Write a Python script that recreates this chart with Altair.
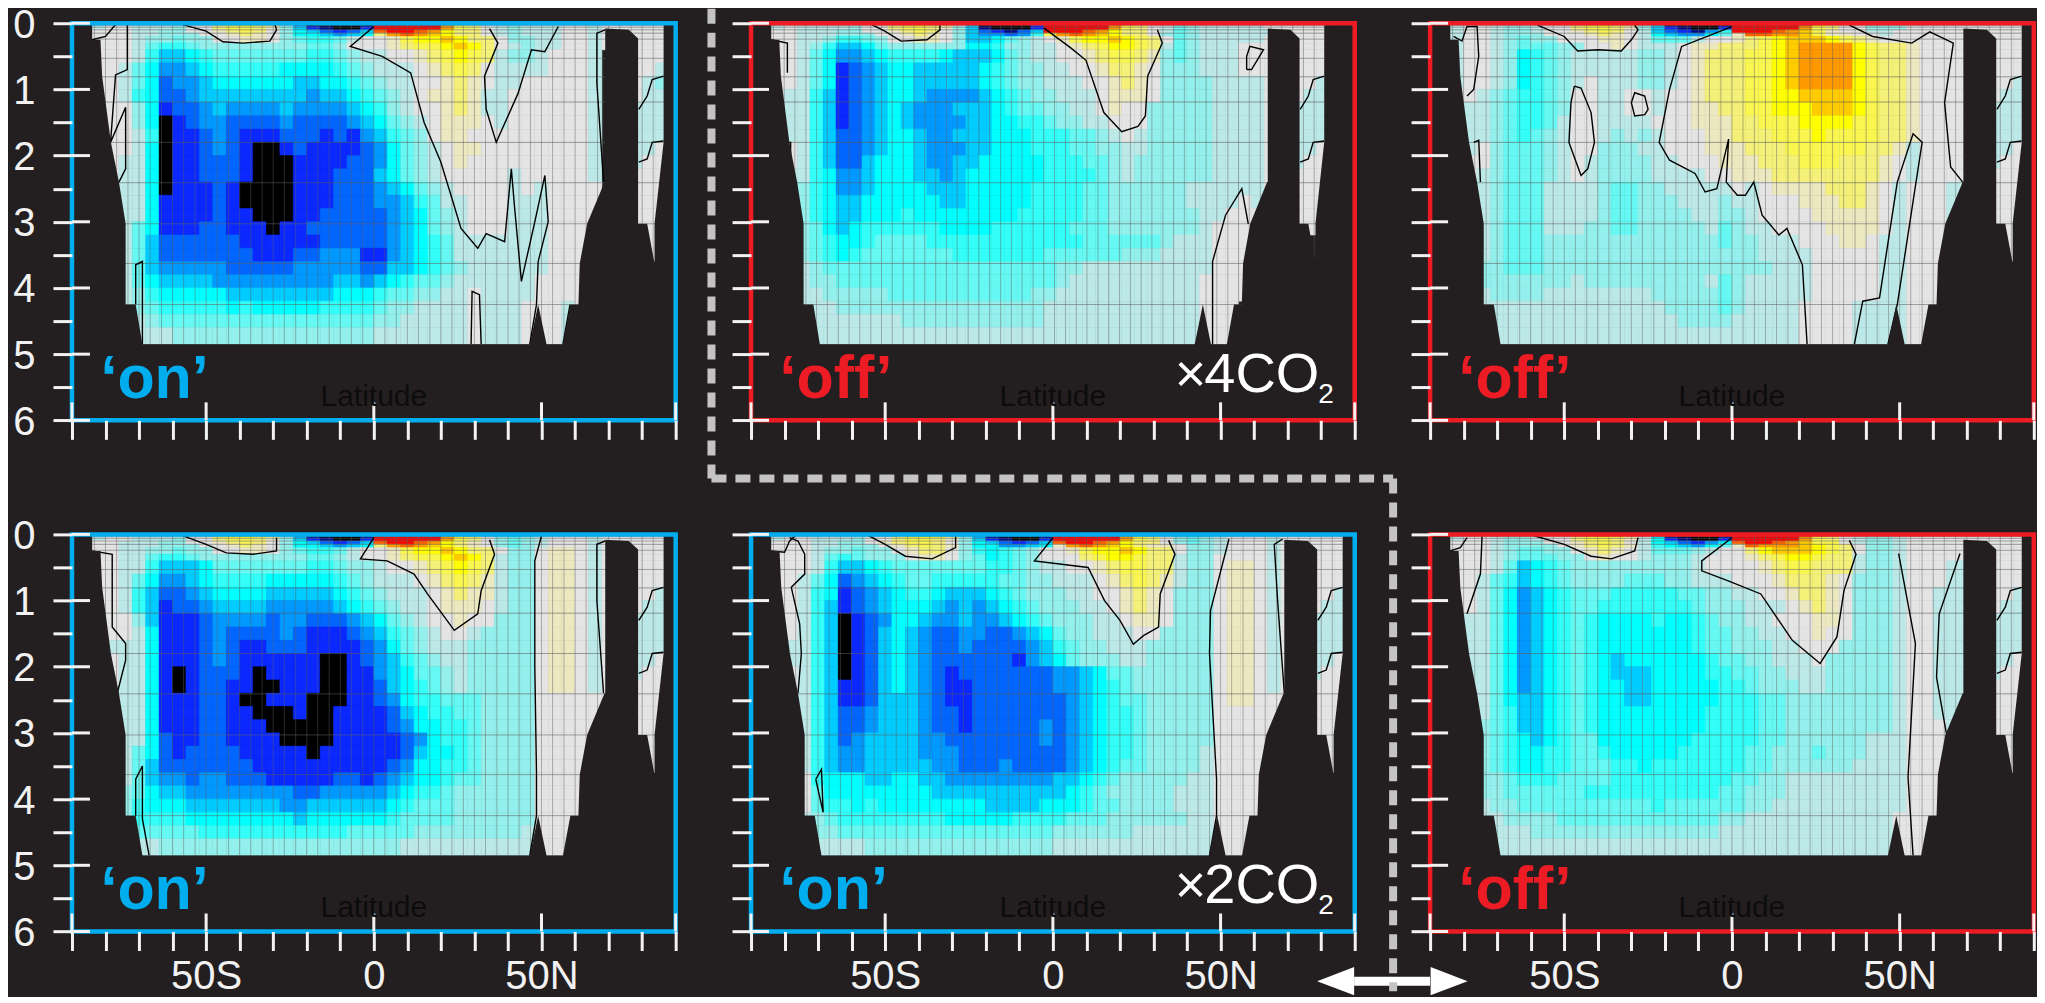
import altair as alt
import pandas as pd

BG = "#231f20"
BLUE = "#00aeef"
RED = "#ed1c24"
WHITE = "#f2f2f2"
W, H = 604, 397.3

LEVEL_CODES = list("KNABCDEFGHIZabcdefgr")
LEVEL_COLORS = ["#000000", "#000a80", "#0a28ff", "#0066ff", "#0099ff", "#00ccff", "#00ffff",
                "#33fff8", "#66f8f2", "#93f0ec", "#bce9e8", "#e4e4e4", "#ece8c0", "#f4f078",
                "#faf650", "#ffff00", "#ffcc00", "#ff9900", "#ff6000", "#ff0000"]

DEPTH_EDGES = [0, .05, .1, .15, .2, .3, .4, .6, .8, 1, 1.2, 1.4, 1.6, 1.8, 2, 2.2, 2.4, 2.6, 2.8,
               3, 3.2, 3.4, 3.6, 3.8, 4, 4.2, 4.4, 4.6, 4.85]
FIRST_LAT = -84
LAT_STEP = 4

P1_ROWS = [
"IZZII IIZab cdcbH CKKKK Krrrr rfcbZ IHIII ZZIZZ ZZZ",
"IZZII IHZZb ccbaH DANKK Arrrr rfcbZ IHIII ZZIZZ ZZZ",
"ZZZII HHZZa bcbZH EDBAB Dgrrg fdbbZ IHIII ZZIZZ ZZZ",
"ZZZII HHHZZ abaZH EEDCD Ebfgf edbbZ IHIII ZZIZZ ZZZ",
"ZZZIH HGHHZ ZaaZH GFFGI ZZacd dedbb ZHHII ZZIZZ ZZZ",
"ZZZIG FFGHH HHHHH HGGHZ ZZabc cdedb ZIHII ZZIZZ ZZZ",
"ZZZIF DDEFG GGGGG GFFGH IIZZa bcdcb IHHIZ ZZI.. ZZZ",
"ZZIGE CCDEF FFFFE EEEFG HIIIZ abcbZ IIIIZ ZZI.. ZZI",
"ZZIGE BCCDE EEEEE DDEEF GHIIZ ZabaZ IIZZZ ZZI.. ZIH",
"ZZIFE BBCDD DDDDD DCDDE FGHIZ aabaI IZZZZ ZZI.. ZII",
"ZZZHE ABBCD CCCCD CCCCD EFHIZ ZabaI IZZZZ ZZI.. III",
"ZZZHE KABCC BBBBC BBBBC DEGHI ZaaaZ IZZZZ ZZI.. III",
"ZZZIF KAABC BAAAB BBABA CDFGH ZaaZZ ZZZZZ ZZI.. III",
"ZZZIE KAABC BAKKA BAAAA BCEGH IZaaZ ZZZZZ ZZI.. IIZ",
"ZZIIE KAABB BAKKK AAAAB BCEGH IZaZZ ZZZZZ ZZI.. IZZ",
"ZZIIE KAABB BAKKK AAABB BDEGH IZZZZ ZIZZZ ZZI.. ZZZ",
"ZZIIE KAAAB AKKKK AAABB BCDEG HIZZZ ZIZIZ ZZZ.. ZZZ",
"ZZIIE AAAAB AKKKK AAABB BCCDF GIIZZ ZIIIZ ZZZ.. ZZZ",
"ZZIIE AAAAB AAKKK AABBB BBCDE GHIZZ ZIIIZ ZZZ.. ZZZ",
"ZIIGE AAABB AAAKA ABBBB BBCDE GHIZZ ZIIIZ ZZZ.. ZZZ",
"ZIIGD BBBBB BAAAA AABBB BBCDE FGIII IIIIZ ZZ... ZZZ",
"ZIIGD BBBBB BBAAA BBCCC AACDE FGIII IIIIZ ZZ... ZZZ",
"ZIIGD CCCCC BBBBB CCCCC BBDDE FGHII IIIIZ ZZ... ...",
"ZIIGE DDDDC CCCCC CCCDD CDEFG GHIII IIIZZ ZZ... ...",
"ZZIHF EEEEE DDDDD DDDEE EFGGH HIIZI IIIZZ ZZ... ...",
"ZZIHG FFFFF EFEEE EEFFF FGHHI IIIZI IIZZZ IZ... ...",
"ZZIIH GGGGG GGGGG GGGGG GHHII IIIZI IIZZZ I.... ...",
"ZZIII IHHHH HHHHH HHHHH HIIII IIIZI IIZZZ I.... ...",
]

P2_ROWS = [
"IZZII IIZab cdcbI DKKKK Arrrr rfcbZ IGHII IIIZZ ZZZ",
"IZIII IHZZb ccbaH DNKKK Arrrr rfcbZ IGHII IIIZZ ZZZ",
"ZZIII HHZZa bcbZH DBANB Drrrg fdbbZ IGHII IIIIZ ZZZ",
"ZZIII HHHZZ abaZH DCCBC Fcfgf edbbZ HGHII IIIIZ ZZZ",
"ZZIIH FFGHZ ZaaZH DDEGH IZacd dedcb ZGHII IIIZZ ZZZ",
"ZZIHF DDEGH HHHHH EEFHH IIZab cddcb IGHII IZZZZ ZZZ",
"ZZIGE CCDEF FFFED DDEGH IIZZa bccba HGHII IZZZZ ZZZ",
"ZZIGE ABCDE EDDDD DEFGH HIIZZ abbaZ HHHII IZZZZ ZZZ",
"ZZIGE ABCDE EDDDD DEFGH HIIIZ ZabaZ HHHHI IIIZZ ZZI",
"ZIIFD ABCDE EDCCC CDEFG HHIII ZaaaZ HHHHI IIIZZ ZII",
"IIIFD ABCDE DCCCD DDEFG GHHII ZaZZH HHHHI IIIZZ III",
"IIIFD ABCDE DCCCC DDEEF FGHHI IZZZH HHHHI IIIZZ III",
"IIIFD BBCDE EDCCD DDEEE FFFGG HIZIH HHHHI IIIZZ III",
"IZIFD BBCDE EDCCC DDEEE FFFGG HHIIH HHHHI IIIZZ IIZ",
"IZIFD BBDEE EDCCD DEEEE EFFFG GHIHH HHHHI IIIZZ IZZ",
"IIIFE CCDEE EDDCD EEEEE EFFFF GHIHH HHHHI IIIZZ ZZZ",
"IIHFE CCDEE EEDDD EEEEE FFFFG GHHHH HHIII IIIZZ ZZZ",
"IIHFE DDEEE EEEDD EEEEE FFFFG GHHHH HHIII IZIZZ ZZZ",
"IIHFE DDEEE FEEEE EEEEF FFFFG GHHHH HHHII ZZZZZ ZZZ",
"IIHGE DEFFF FFFEE EEFFF FFFGG GHHHH HHHIZ ZZZZZ ZZZ",
"IIHGF EEFGG GGFFF FFFFF FFFFG GGGGG HIIIZ ZZZ.. ...",
"IIHGF EFGGG GGGGF FFFFF FGGGG GGHHH IIIIZ ZZZ.. ...",
"IIIHG GGGGG GGGGG GGGGG GGHHI IIIII IIIIZ ZZZ.. ...",
"IIIHH GGGGG GGGGG GGGGG GGHII IIIII IIIZZ ZZZ.. ...",
"IIIIH HHHHG GGGGG GGGGG HHIII IIIII IIIZZ ZZ... ...",
"IIIII HHHHH HHHHH HHHHH HIIII IIIII IIIZZ Z.... ...",
"IIIII IIIII HHHHH HHHHH HIIII IIIII IIIZZ Z.... ...",
"IIIII IIIII IIIII IIIII IIIII IIIII IIIZZ Z.... ...",
]

P3_ROWS = [
"IZZIH HIZab cdcbH DKKKK Krrrr rgdba ZHHHI IIIZZ ZZZ",
"IZZIH HIZZb ccbaH DANKK Arrrr rfcbZ ZHHHZ ZZZZZ ZZZ",
"IZZIH HIZZa bcbZI DBANC Frrrg fecaZ ZIIZZ ZZZZZ ZZZ",
"IZZIH HHZZZ abaZI EDCCE Gaggf fecaa ZZIZZ ZZZZZ ZZZ",
"IZZIH GHHZZ ZaaZI GGGIZ Zabcd eeedc baZZZ ZZZZZ ZZZ",
"IZZIH GGGHH ZZaZI IIZaa bbbcd effff dcbba ZZZZZ ZZZ",
"IZZIH EFGHI IIIIH HIZab bbccd effff dcbba ZZZZZ ZZZ",
"IZZIH EFGHI IIIIH HIZab bbccd effff dcbba ZZZZZ ZZZ",
"IZZIH EFGHI ZIIIH HIZab bbccd effff dcbba ZZZZZ ZZI",
"ZZIHG FFGHZ ZIIZZ IZZab bbccd deeee dcbba ZZZZZ ZII",
"ZIIHG FFGHZ ZIIZZ IZZaa bbccd ddeee dcbba ZZZZZ III",
"IIIHG FFGIZ ZIIII ZZZaa abbcc cdddd ccbba ZZZZZ III",
"IIIHG FGHIZ ZIHIH IZZZa abbbc ccdcc ccbba ZZZZZ III",
"IIZHG GGHIZ ZHHHI IZZZa aabbb ccccc cbbaI ZZZZZ IIZ",
"IZZHG GGHIZ IHHHH IIZZZ aaabb bcccb bbaZI ZZZZZ IZZ",
"IZIHG GGHIZ IHHHH IIIIZ Zaaab bbbbb bbaZI ZZZZZ ZZZ",
"IIIHG GGIII IHGGH HIIII IZIZa aaabb baZIZ ZZIII ZZZ",
"IIIHG GGIII IHGGH HHIII HIIZZ Zaaab baZIZ ZZIII ZZZ",
"IIIHG GGIII IHGGH HHHII HHIZZ ZZaaa aaZIZ ZZIII ZZZ",
"IIIHG GGIII HHGGH HHHHI GHIIZ ZZZaa aaZIZ ZZ... ZZZ",
"IIIHG GGHHH HHHHH HHHHH GHHII IZZZa aZIIZ ZZ... ZZZ",
"IIIHG GGHHH HHHHH HHHHH HHHII IIZZZ ZZIIZ ZZ... ZZZ",
"IIHHG GGHHH HHHHH HHHHH HHHHI IIZZZ ZZIIZ ZZ... ...",
"IIHHH HHHHI HHHHH HHHHI GHIII IIZZZ ZZIIZ ZZ... ...",
"IIIHH HHIII IIIII HHHHH GHIII IIZZZ ZZIIZ ZZ... ...",
"IIIII IIIII IIIII IHHHH GHIII IZZZZ IIIIZ ZZ... ...",
"IIIII IIIII IIIII IIHHH HIIII IZZZZ IIIIZ Z.... ...",
"IIIII IIIII IIIII IIIII IIIII IZZZZ IIIIZ Z.... ...",
]

P4_ROWS = [
"IZZII IIZab cdcbH CKKKK Krrrr rfcbZ HGHIZ ZZIZZ ZZZ",
"IZZII IHZZb ccbaH DANKK Arrrr rfcbZ HGHIZ ZZIZZ ZZZ",
"ZZIII HHZZa bcbZH EDBAB Dgrrg fdbaZ HGHIZ ZZIZZ ZZZ",
"ZZIII HHHZZ abaZH EEDCD Ebfgf edbaZ HGHIZ ZZIZZ ZZZ",
"ZZIIH HGHHZ ZaaZH GFFGI ZZacd dedbb ZHHZa aZIZZ ZZZ",
"ZZIIG FFGHH HHHHH HGGHI ZZabc cdedb IHHZa aZIZZ ZZZ",
"ZZIIF DDDEG GGGGG GFFGH HIZZa bcdcb IHHZa aZIZZ ZZZ",
"ZZIGE CCDEF FFFEE EEEFG HIIIZ abcba IHHZa aZIZZ ZZZ",
"ZZIFD BBCDE EEEDD DDDEF GHIII Zabaa IHHZa aZIZZ ZZI",
"ZZIFD ABBCD DDDCC CCCDE FGHII ZaaaZ IHHZa aZIZZ ZII",
"ZZZHD AAABC CCCBC CBBBC DEGHI ZZaZZ HHHZa aZIZZ III",
"ZZZIE AAABC BBBBC BAAAB CDFGH IZZIH HHHZa aZIZZ III",
"ZIIIE AAABC BAABB BAAAA BCEGH IIIHH HHHZa aZIZZ III",
"ZZIIE AAABC BAAAA AAKKA BCDFG HIIHH HHHZa aZIZZ IIZ",
"ZZIIE AKABB BAKAA AAKKA ACDEG GHIHH HHHZa aZIZZ IZZ",
"ZZIIE AKABB AAKKA AAKKA ABDEF GHIHH HHHZa aZIZZ ZZZ",
"ZZIIE AAABB AKKAA AKKKA ABCEF FGGGH HHHZZ ZZZZZ ZZZ",
"IIIIE AAABB AAKKK AKKAA AABDE FFGGH HHHZZ ZZZZZ ZZZ",
"IIIIE AAABB AAAKK KKKAA AABCE EFFGH HHHZZ ZZZZZ ZZZ",
"ZIIIE BAABB AAAAK KKKAA AAABC EFFGH HHHZZ ZZZZZ ZZZ",
"ZIIGE BABBB BAAAA AKAAA AAABD EEFGH HHHZZ ZZ... ZZZ",
"ZIIGD BBBBB BBAAA AAAAA AABCE EFFGH HHHZZ ZZ... ZZZ",
"ZIIGD CCBCC BBBAA AAABB ABCDE EFGGH HHHZZ ZZ... ...",
"ZIHGE DDCCC CCCCC BBCCC CCDEF FGHHH HHHZZ ZZ... ...",
"ZZHFE EEDDD DDDDC CDDDD DDEFG GGHHH HHHZZ ZZ... ...",
"ZZHFF FFEEE EEEEE DEEEE EEFGG GGHHH HHHZZ ZZ... ...",
"ZZIGG GGGFF FFFFF FFFFG GGGGH HHHHH HHIZZ Z.... ...",
"ZZIII HHHHH HHHHH HHHHH HHHII IIIII IIIZZ Z.... ...",
]

P5_ROWS = [
"IZZIZ IIZab cddbH CKKKK Krrrr rfcbZ HGHIZ ZZIZZ ZZZ",
"IZZII IHZZb ccbaH DANKK Arrrr rfcbZ HGHIZ ZZIZZ ZZZ",
"ZZZII HHZab ccbZH EDBAB Dgrrg fdbbZ HGHIZ ZZIZZ ZZZ",
"ZZZII HHHZa bcbaH EECCD Eafgf edbaa ZHHIZ ZZIZZ ZZZ",
"ZZZIH HGHHZ abbZH FEFGH ZZacd dedbb ZHHIZ ZZIZZ ZZZ",
"ZZZIG FGHHH ZaaZH GEFGH ZZZbc ddcbb IHHZZ ZZIZZ ZZZ",
"ZZZIF DDEFG GGGGG GFFGH IIZZa bccbb IHHZa aZIZZ ZZZ",
"ZZIGE BCDEF GGFFF FFGGH HIIIZ abcba IHHZa aZIZZ ZZZ",
"ZZIFE ABCDE FFEDD DEFGH HHIIZ ZabaZ HHHZa aZIZZ ZZI",
"ZZIFD ABCDE EEDCD CDEFG HHHII ZabaZ HHHZa aZIZZ ZII",
"ZZIFD KABCE EDCCD CCDEF GHHHI IZaaZ HHHZa aZIZZ III",
"ZZIFD KABDE DCBBC CBBCD EGHHI IIZZH HHHZa aZIZZ III",
"ZIIFD KABDE DCBBC BBBBC DFGHH IIIHH HHHZa aZIZZ III",
"ZIIFD KABDE DCBBB BBBAC DEGHH HIIHH HHHZa aZIZZ IIZ",
"IZIFD KABDE DCBAB BBBBB BCCDE GGHHH HHHZa aZIZZ IZZ",
"IZIFD AABDE DCBAA BBBBB BCCDE FGHHH HHHZa aZIZZ ZZZ",
"IIIFD AABDD DCBAA BBBBB BBCDE FGGHH HHHZa aZZZZ ZZZ",
"IIIFD BBCDD DCBBA BBBBB BBCDE FFGHH HHHZZ ZZZZZ ZZZ",
"IIIFD BBCDD DCBBA BBBBB CBCDE FFGHH HHHZZ ZZZZZ ZZZ",
"IIIFD BCDDD DCCBB BBBBB CBCDE FFGHH HHHZZ ZZZZZ ZZZ",
"IIIFD CCDDD DCCCB BBBBB BBCDE FFGHH HHIZZ ZZ... ZZZ",
"IIIFD CCDDD DDCCB BBCBB BBCDE FGGHH HHIZZ ZZ... ZZZ",
"IIZFE EEDDE EDDCC CCCCC CDDEF GHHHH HIIZZ ZZ... ...",
"IIZGE EEEEE EEDDD DDDDD DDEFG HHHHH IIIZZ ZZ... ...",
"IIZGF FEFEE EEEEE EDDDD EEEFG GHHHH IIIZZ ZZ... ...",
"IIIHG FFFFF FFFEE EEEFF FFGGG HHHHH HIIZZ ZZ... ...",
"IIIHH GGGGG GGGGG GGGGG GHHHH HHIII IIIZZ Z.... ...",
"IIIII IIHHH HHHHH HHHHH HIIII IIIII IIIZZ Z.... ...",
]

P6_ROWS = [
"IZZIH HIZab cddbI DKKKK Krrrr rfcbZ IHHIZ ZZZZZ ZZZ",
"IZZIH HIZZb ccbaI EANKK Arrrr rfcbZ IHHIZ ZZZZZ ZZZ",
"ZZZIH HHZZa bcbZI EDBAC Egrrg feccZ IHHIZ ZZZZZ ZZZ",
"ZZZIH HHHZa bcbaI FEDCE Gagff fedcb ZHHIZ ZZZZZ ZZZ",
"ZZZIH GGHHZ abaZI GGGHI ZZbde eedcb ZHHIZ ZZZZZ ZZZ",
"ZZZIH GGGHH ZaZZI HHHIZ ZZabc ddcbb IHHIZ ZZZZZ ZZZ",
"ZZZIG DEFGH HHHHH HHHIZ ZZZab ccbbb IHHIZ ZZIII ZZZ",
"ZZIGF DEFGH HHHGG GHHII IZZZa bbbaZ HHHIZ ZZIII ZZZ",
"ZZIGE CDEFG GGFFF FFGGH HIIZZ abbaZ HHHIZ ZIIII ZZI",
"ZZIGE CDEFG GFFFF FFFGH HHIII ZabaZ HHHIZ ZIIII ZII",
"ZIIGE CDEFG FEEEE FEEFG HHIIZ ZZaaZ HHHIZ ZIIII III",
"ZIIGE CDEFG FEEEE EEEFG GHHII ZZaZZ HHHIZ ZIIII III",
"IIIGE CDEFG FEEEE EEEFG GHHHI IZZZH HHHIZ ZIIII III",
"IIIGE CDEFG FEDEE EEEEF GGHHI IIZHH HHHIZ ZIIII IIZ",
"IIIGE CDEFG FEDDD EEEEF FGGHH IIIHH HHHIZ ZIIII IZZ",
"IIIGE CDEFG FEEDD EEEEE FFGHH HIIHH HHHIZ ZIIII ZZZ",
"IIIGE DDEFG FEEDD EEEEE FFFGG HHHHH HHHIZ ZIIII ZZZ",
"IIIGF DDEFG FEEEE EEEEF FFFGG HHHHH HHHIZ ZIIII ZZZ",
"IIHGF DDEFG FEEEE EEEEF FFFGG HHHHH HHHIZ ZZIII ZZZ",
"IIHGF EDEFG GEEEE EEEFF FFFGG HHHHH HIIIZ ZZZ.. ZZZ",
"IIHGF EEFFG GFEEE EEFFF FFGGH HHGHH HIIIZ ZZZ.. ZZZ",
"IIHGF EEFFG GGFFE FFFFF FFGGH HHHHH IIIIZ ZZZ.. ZZZ",
"IIHHG FFFGG GGFFF FFFFF FGGHH IIIII IIIIZ ZZ... ...",
"IIHHG GGGGG FFFFF FFFFF GGHHH IIIII IIIIZ ZZ... ...",
"IIIHH GGGGG GGGGG FGGGG GGHHI IIIII IIIIZ ZZ... ...",
"IIIIH HHHGG GGGGG GGGGG HHIII IIIII IIIZZ ZZ... ...",
"IIIII IHHHH HHHHH HHHHH IIIII IIIII IIIZZ Z.... ...",
"IIIII IIIII IIIII IIIII IIIII IIIII IIIZZ Z.... ...",
]

# black zero contours, (latitude, depth km)
RIGHT_A = [(79, 1.3), (81.5, 1.1), (83, .85), (86.4, .8)]
RIGHT_B = [(79, 2.1), (81.5, 2.05), (83, 1.8), (86.4, 1.78)]
P1_LINES = [
 [(0,.05),(-7,.35),(2.5,.5),(11,.75),(15,1.5),(20,2.1),(23,2.6),(26,3.1),(31,3.4),(33.5,3.18),(39,3.3),(41,2.2),(42,2.8),(44,3.9),(48,3),(51,2.3),(52,3),(49,3.6),(48.5,4.25),(46.5,4.85)],
 [(34.5,.08),(37,.3),(33,.8),(33.5,1.3),(36.5,1.8),(43,1.06),(47,.4),(51,.43),(55,.05)],
 [(-57,.02),(-50,.12),(-45,.28),(-39,.3),(-31,.27),(-29,.1),(-29.5,.02)],
 [(-84,.25),(-80,.2),(-78,.08),(-77,.02)],
 [(-73.5,.02),(-73.5,.7),(-77,.78),(-78.5,1.8),(-74,1.27),(-74,2.2),(-76,2.4)],
 [(69,.1),(66.5,.15),(66.5,.9),(68.5,2.4)], RIGHT_A, RIGHT_B,
 [(-71,4.25),(-71,3.65),(-69,3.6),(-69,4.85)],
 [(29,4.85),(29.3,4.05),(31.5,4.1),(32,4.85)],
 [(56.4,4.85),(58.5,4.25)],
]
P2_LINES = [
 [(0,.07),(8.5,.38),(13,.56),(18.5,1.35),(24,1.64),(29,1.56),(31.3,1.4),(32,.8),(36.5,.3),(35,.1)],
 [(-53,.02),(-49,.12),(-44,.27),(-36,.25),(-32,.1),(-32,.03)],
 [(-84,.25),(-79,.3),(-79,.75)],
 [(-80,1.8),(-78,1.8),(-78,2.4)],
 [(52,4.85),(52,3.6),(56,2.9),(61,2.5),(63,3.03)],
 [(62.5,.7),(62.5,.5),(63.5,.35),(67.7,.4),(64,.7),(62.5,.7)],
 RIGHT_A, RIGHT_B,
]
P3_LINES = [
 [(0,.05),(-15,.35),(-18.6,1),(-21.7,1.8),(-18.6,2.07),(-11,2.27),(-8,2.55),(-4.5,2.5),(-1,1.75),(-1.7,2.4),(1.6,2.6),(4,2.6),(6.5,2.4),(9,2.9),(14,3.2),(16.4,3.1),(21,3.65),(22.4,4.85)],
 [(36.5,4.85),(39,4.2),(44,4.15),(49.3,2.4),(54,1.67),(56.7,1.8),(49.3,4.25),(46.5,4.85)],
 [(-47,.95),(-45,.98),(-42,1.35),(-41,1.8),(-43,2.2),(-45,2.3),(-48.6,1.8),(-48,1.2),(-47,.95)],
 [(-30,1.2),(-29,1.05),(-26,1.1),(-25,1.3),(-26,1.38),(-29,1.4),(-30,1.2)],
 [(-58,.03),(-50,.2),(-46,.42),(-40,.4),(-33,.42),(-30,.25),(-28,.1),(-29,.03)],
 [(-83,.2),(-80.5,.27),(-79,.05),(-76,.05),(-75.5,.5),(-77,1),(-79,1.1)],
 [(-77,1.8),(-75.5,1.77),(-75,2.4)],
 [(35,.03),(42,.2),(53.6,.3),(59,.13),(66,.3),(63.4,1.2),(65.2,2.17),(68.8,2.4)],
 RIGHT_A, RIGHT_B,
]
P4_LINES = [
 [(0,.05),(-4,.37),(4,.4),(12,.6),(16,.9),(24,1.45),(31,1.2),(32,.85),(36,.3),(34.5,.08)],
 [(-57,.02),(-50,.15),(-44,.28),(-36,.3),(-29,.25),(-29,.05)],
 [(-84,.25),(-78,.3),(-78,.8),(-78,1.4),(-74,1.65),(-74,1.9),(-76.5,2.4)],
 [(-71,4.25),(-71,3.7),(-69,3.5),(-69,4.3),(-67,4.85)],
 [(50,.02),(48,.4),(48,2),(48.5,3.6),(48.5,4.25),(46.5,4.85)],
 [(69,.1),(66.5,.15),(66.5,1),(68.5,2.4)], RIGHT_A, RIGHT_B,
]
P5_LINES = [
 [(0,.05),(-5.5,.4),(10.5,.5),(15.4,1),(20,1.3),(24,1.66),(27,1.53),(31.5,1.4),(32,.9),(36.4,.3),(34.5,.09)],
 [(-55,.02),(-50,.15),(-44,.33),(-36,.37),(-29,.2),(-29,.03)],
 [(-84,.25),(-80,.27),(-78.5,.1),(-77,.03)],
 [(-78.5,.05),(-76,.1),(-74,.3),(-74,.6),(-78,.8),(-75.5,1.35),(-75,1.8),(-76,2.4)],
 [(-70.7,3.7),(-69,3.55),(-68.5,4.2),(-70.7,3.7)],
 [(52.5,.07),(47,1.15),(46.7,1.8),(48.8,3.7),(48.8,4.25),(46.7,4.85)],
 [(68.5,.07),(66,.15),(67,1),(69,2.4)], RIGHT_A, RIGHT_B,
]
P6_LINES = [
 [(0,.05),(-9,.4),(-9,.55),(-1.3,.7),(8.6,.9),(18,1.6),(26.3,1.95),(31.3,1.55),(33.4,.85),(37,.3),(35,.09)],
 [(-59,.02),(-50,.15),(-42,.33),(-36,.37),(-29,.25),(-28,.05)],
 [(-84,.25),(-81,.2),(-79,.05)],
 [(-74.5,.03),(-75,.6),(-79,1.2)],
 [(49.7,.29),(54.7,1.65),(52.5,3.67),(54,4.85)],
 [(68,.29),(61.8,1.2),(61,2.16),(63.9,3)], RIGHT_A, RIGHT_B,
]

FLOOR_LAT = [-90,-84,-84,-81.5,-81,-78.4,-76,-74,-74,-71,-69,46.5,49,51.5,56.4,58.6,61,61.4,63.6,68.8,69,69,76,78.8,78.8,81.5,83.7,83.7,86.4,86.4,90]
FLOOR_DEPTH = [0,0,.25,.25,.8,1.8,2.4,3.03,4.25,4.25,4.85,4.85,4.25,4.85,4.85,4.25,4.25,3.63,3.03,2.4,2.4,.08,.1,.23,3.03,3.03,3.63,3.03,1.8,0,0]

GRID_LATS = [-83.3,-80,-76.7,-73.3,-70,-66.7,-63.3,-60,-56.7,-53.3,-50,-46.7,-43.3,-40,-36.7,-33.3,-30,-26.7,-23.3,-20,-16.7,-13.3,-10,-6.7,-3.3,0,3.3,6.7,10,13.3,16.7,20,23.3,26.7,30,33.3,36.7,40,43.3,46.7,50,53.3,56.7,60,63.3,66.7,70,73.3,76.7,80,83.3]
GRID_DEPTHS = [.03,.06,.1,.15,.24,.53,.81,1.19,1.8,2.41,3.03,3.63,4.25]
X_TICKS = [-90,-80,-70,-60,-50,-40,-30,-20,-10,0,10,20,30,40,50,60,70,80,90]
X_MAJOR = [-90,-50,0,50,90]
Y_TICKS = [0,.5,1,1.5,2,2.5,3,3.5,4,4.5,5,5.5,6]
Y_MAJOR = [0,1,2,3,4,5,6]

FONT = "Liberation Sans"


def cells(rows):
    out = []
    for r, row in enumerate(rows):
        chars = row.replace(" ", "")[:43].ljust(43, ".")
        for i, ch in enumerate(chars):
            if ch != ".":
                lat = FIRST_LAT + LAT_STEP * i
                out.append(dict(lat0=lat, lat1=lat + LAT_STEP, d0=DEPTH_EDGES[r], d1=DEPTH_EDGES[r + 1], level=ch))
    return pd.DataFrame(out)


def contour_frame(lines):
    out = []
    for s, line in enumerate(lines):
        for i, (lat, depth) in enumerate(line):
            out.append(dict(seg=s, i=i, lat=lat, depth=depth))
    return pd.DataFrame(out)


YS = alt.Scale(domain=[6, 0], nice=False, zero=False)


def panel(rows, lines, color, tag, dom=(-90, 90), ylab=False, xlab=False, co2=None, extra=()):
    xs = alt.Scale(domain=list(dom), nice=False, zero=False)
    level_scale = alt.Scale(domain=LEVEL_CODES, range=LEVEL_COLORS)
    L = []
    L.append(alt.Chart(cells(rows)).mark_rect(strokeWidth=0.6).encode(
        x=alt.X("lat0:Q", scale=xs, axis=None), x2="lat1:Q",
        y=alt.Y("d0:Q", scale=YS, axis=None), y2="d1:Q",
        color=alt.Color("level:N", scale=level_scale, legend=None),
        stroke=alt.Stroke("level:N", scale=level_scale, legend=None)))
    L.append(alt.Chart(pd.DataFrame({"lat": GRID_LATS, "a": 0, "b": 4.85})).mark_rule(
        color="#5f5f5f", opacity=0.45, strokeWidth=1).encode(
        x=alt.X("lat:Q", scale=xs, axis=None), y=alt.Y("a:Q", scale=YS, axis=None), y2="b:Q"))
    L.append(alt.Chart(pd.DataFrame({"depth": GRID_DEPTHS, "a": -84, "b": 86.4})).mark_rule(
        color="#5f5f5f", opacity=0.55, strokeWidth=1).encode(
        y=alt.Y("depth:Q", scale=YS, axis=None), x=alt.X("a:Q", scale=xs, axis=None), x2="b:Q"))
    L.append(alt.Chart(contour_frame(lines)).mark_line(color="#000000", strokeWidth=1.4).encode(
        x=alt.X("lat:Q", scale=xs, axis=None), y=alt.Y("depth:Q", scale=YS, axis=None),
        detail="seg:N", order="i:Q"))
    L.append(alt.Chart(pd.DataFrame({"lat": FLOOR_LAT, "depth": FLOOR_DEPTH, "low": 6})).mark_area(
        color=BG, opacity=1, orient="vertical").encode(
        x=alt.X("lat:Q", scale=xs, axis=None), y=alt.Y("depth:Q", scale=YS, axis=None), y2=alt.Y2("low:Q")))
    L.append(alt.Chart(pd.DataFrame({"k": [1]})).mark_rect(filled=False, stroke=color, strokeWidth=4.5).encode(
        x=alt.value(0), x2=alt.value(W), y=alt.value(0), y2=alt.value(H)))
    tick_scale = alt.Scale(domain=[-90, 90], nice=False, zero=False)
    x_axis = alt.Axis(values=X_TICKS, tickSize=19, tickWidth=3, tickColor=WHITE, domain=False, grid=False,
                      title=None, labels=xlab, labelExpr="datum.value==-50?'50S':datum.value==0?'0':datum.value==50?'50N':''",
                      labelFont=FONT, labelFontSize=40, labelColor=WHITE, labelPadding=6, labelOverlap=False,
                      labelFlush=False, labelAngle=0, zindex=1)
    L.append(alt.Chart(pd.DataFrame({"lat": X_MAJOR})).mark_rule(color=WHITE, strokeWidth=3).encode(
        x=alt.X("lat:Q", scale=tick_scale, axis=x_axis), y=alt.value(H - 18), y2=alt.value(H)))
    y_axis = alt.Axis(values=Y_TICKS, tickSize=19, tickWidth=3, tickColor=WHITE, domain=False, grid=False,
                      title=None, labels=ylab, labelExpr="datum.value%1==0?format(datum.value,'d'):''",
                      labelFont=FONT, labelFontSize=40, labelColor=WHITE, labelPadding=18, labelOverlap=False,
                      labelFlush=False, labelOffset=2, zindex=1)
    L.append(alt.Chart(pd.DataFrame({"depth": Y_MAJOR})).mark_rule(color=WHITE, strokeWidth=3).encode(
        y=alt.Y("depth:Q", scale=YS, axis=y_axis), x=alt.value(0), x2=alt.value(18)))
    L.append(alt.Chart(pd.DataFrame({"t": ["Latitude"]})).mark_text(
        font=FONT, fontSize=30, color="#0c0c0c", align="center", baseline="middle").encode(
        text="t:N", x=alt.value(302), y=alt.value(374)))
    L.append(alt.Chart(pd.DataFrame({"t": [tag]})).mark_text(
        font=FONT, fontSize=61, fontWeight="bold", color=color, align="left", baseline="alphabetic").encode(
        text="t:N", x=alt.value(28.5), y=alt.value(375)))
    if co2:
        for t, px, py, size in [("\u00d7", 424, 369, 54), (co2 + "CO", 453.5, 369, 56), ("2", 567.5, 380, 28)]:
            L.append(alt.Chart(pd.DataFrame({"t": [t]})).mark_text(
                font=FONT, fontSize=size, color="#ffffff", align="left", baseline="alphabetic").encode(
                text="t:N", x=alt.value(px), y=alt.value(py)))
    L.extend(extra)
    return alt.layer(*L).properties(width=W, height=H).resolve_scale(x="independent", y="independent")


arrow_dash = [
    alt.Chart(pd.DataFrame({"k": [1]})).mark_rule(color="#ffffff", strokeWidth=9).encode(
        x=alt.value(-76), x2=alt.value(0), y=alt.value(447)),
    alt.Chart(pd.DataFrame({"k": [1]})).mark_point(shape="M-1,0L1,-0.76L1,0.76Z", size=1369, filled=True, color="#ffffff", opacity=1).encode(
        x=alt.value(-94.5), y=alt.value(447)),
    alt.Chart(pd.DataFrame({"k": [1]})).mark_point(shape="M1,0L-1,-0.76L-1,0.76Z", size=1369, filled=True, color="#ffffff", opacity=1).encode(
        x=alt.value(19), y=alt.value(447)),
    alt.Chart(pd.DataFrame({"k": [1]})).mark_rule(color="#c4c4c4", strokeWidth=8, strokeDash=[15, 9]).encode(
        x=alt.value(-719), y=alt.value(-526), y2=alt.value(-56)),
    alt.Chart(pd.DataFrame({"k": [1]})).mark_rule(color="#c4c4c4", strokeWidth=8, strokeDash=[15, 9]).encode(
        x=alt.value(-719), x2=alt.value(-37), y=alt.value(-56)),
    alt.Chart(pd.DataFrame({"k": [1]})).mark_rule(color="#c4c4c4", strokeWidth=8, strokeDash=[15, 9]).encode(
        x=alt.value(-37), y=alt.value(-56), y2=alt.value(457)),
]

p1 = panel(P1_ROWS, P1_LINES, BLUE, "\u2018on\u2019", ylab=True)
p2 = panel(P2_ROWS, P2_LINES, RED, "\u2018off\u2019", dom=(-90.2, 95.8), co2="4")
p3 = panel(P3_ROWS, P3_LINES, RED, "\u2018off\u2019")
p4 = panel(P4_ROWS, P4_LINES, BLUE, "\u2018on\u2019", ylab=True, xlab=True)
p5 = panel(P5_ROWS, P5_LINES, BLUE, "\u2018on\u2019", xlab=True, co2="2")
p6 = panel(P6_ROWS, P6_LINES, RED, "\u2018off\u2019", xlab=True, extra=arrow_dash)

chart = alt.concat(p1, p2, p3, p4, p5, p6, columns=3, spacing={"row": 113.4, "column": 75.4}, bounds="flush").properties(
    background=BG, padding={"left": 4, "top": -4, "right": 0, "bottom": 0}
).configure_view(stroke=None)

chart.save("out.html", embed_options={"renderer": "svg", "actions": False})
